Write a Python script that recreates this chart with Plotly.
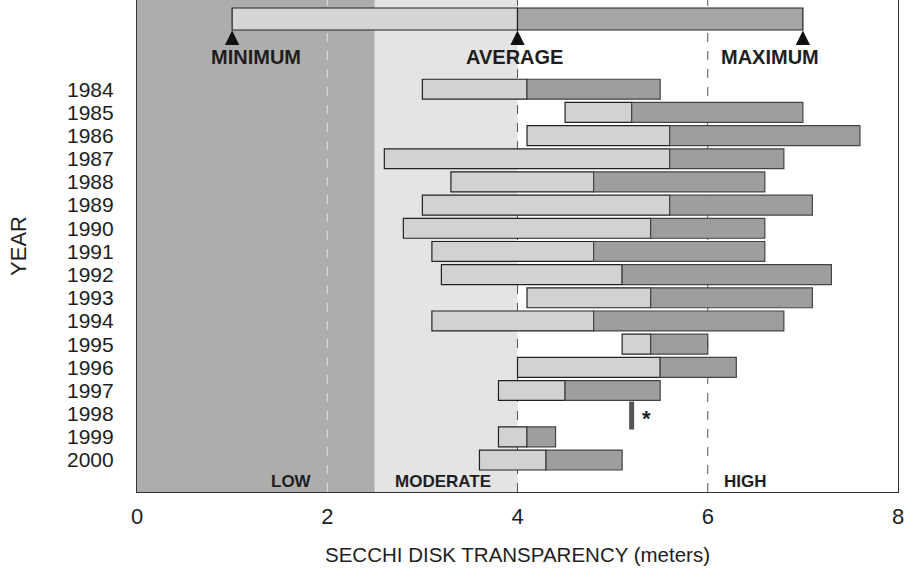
import plotly.graph_objects as go

# ---------------- data ----------------
years = list(range(1984, 2001))
year_min = [3.0, 4.5, 4.1, 2.6, 3.3, 3.0, 2.8, 3.1, 3.2, 4.1, 3.1, 5.1, 4.0, 3.8, None, 3.8, 3.6]
year_avg = [4.1, 5.2, 5.6, 5.6, 4.8, 5.6, 5.4, 4.8, 5.1, 5.4, 4.8, 5.4, 5.5, 4.5, 5.2, 4.1, 4.3]
year_max = [5.5, 7.0, 7.6, 6.8, 6.6, 7.1, 6.6, 6.6, 7.3, 7.1, 6.8, 6.0, 6.3, 5.5, None, 4.4, 5.1]

# single-measurement year (no range bar)
single_year = 1998
single_value = 5.2

# overall summary (top bar)
overall_labels = ["MINIMUM", "AVERAGE", "MAXIMUM"]
overall_values = [1.0, 4.0, 7.0]
overall_label_x = [1.25, 3.97, 6.65]

# transparency zones
zone_names = ["LOW", "MODERATE", "HIGH"]
zone_bounds = [0.0, 2.5, 4.0, 8.0]
zone_label_x = [1.62, 3.22, 6.4]
divider_x = [2, 4, 6]

x_ticks = [0, 2, 4, 6, 8]

# ---------------- styles ----------------
FONT = "Liberation Sans, Arial, sans-serif"
TXT = "#1e1e1e"
LIGHT = "#d2d2d2"
DARK = "#9e9e9e"
zone_colors = ["#adadad", "#e4e4e4", "rgba(0,0,0,0)"]
divider_colors = ["#e2e2e2", "#555555", "#555555"]

summary_y = 1980.97
label_y = 1982.6
zone_label_y = 2000.92

fig = go.Figure()

# year range bars
lo_len = [None if a is None or b is None else b - a for a, b in zip(year_min, year_avg)]
hi_len = [None if a is None or b is None else b - a for a, b in zip(year_avg, year_max)]
bar_years = [y for y, l in zip(years, lo_len) if l is not None]
fig.add_trace(go.Bar(
    orientation="h", y=bar_years,
    x=[l for l in lo_len if l is not None],
    base=[m for m, l in zip(year_min, lo_len) if l is not None],
    width=0.86, marker=dict(color=LIGHT, line=dict(color="#222", width=1.2)),
    showlegend=False, hoverinfo="skip"))
fig.add_trace(go.Bar(
    orientation="h", y=bar_years,
    x=[l for l in hi_len if l is not None],
    base=[m for m, l in zip(year_avg, hi_len) if l is not None],
    width=0.86, marker=dict(color=DARK, line=dict(color="#444", width=1.2)),
    showlegend=False, hoverinfo="skip"))

# overall summary bar
fig.add_trace(go.Bar(
    orientation="h", y=[summary_y], x=[overall_values[1] - overall_values[0]],
    base=[overall_values[0]], width=0.95,
    marker=dict(color="#d6d6d6", line=dict(color="#222", width=1.2)),
    showlegend=False, hoverinfo="skip"))
fig.add_trace(go.Bar(
    orientation="h", y=[summary_y], x=[overall_values[2] - overall_values[1]],
    base=[overall_values[1]], width=0.95,
    marker=dict(color="#a6a6a6", line=dict(color="#222", width=1.2)),
    showlegend=False, hoverinfo="skip"))

# single-measurement year
fig.add_trace(go.Scatter(
    x=[single_value], y=[single_year + 0.08], mode="markers",
    marker=dict(symbol="line-ns-open", size=20, color="#555555", line=dict(color="#555555", width=5)),
    showlegend=False, hoverinfo="skip"))

fig.update_layout(barmode="overlay")

shapes = []
for i in range(3):
    shapes.append(dict(type="rect", xref="x", yref="paper", x0=zone_bounds[i], x1=zone_bounds[i + 1],
                       y0=0, y1=1, fillcolor=zone_colors[i], line=dict(width=0), layer="below"))
for xv, c in zip(divider_x, divider_colors):
    shapes.append(dict(type="line", xref="x", yref="paper", x0=xv, x1=xv, y0=0, y1=1,
                       line=dict(color=c, width=1, dash="dash"), layer="below"))

annotations = []
for name, v, lx in zip(overall_labels, overall_values, overall_label_x):
    annotations.append(dict(x=v, y=summary_y + 0.5, xref="x", yref="y", text="", showarrow=True,
                            ax=0, ay=15, arrowhead=2, arrowsize=2.2, arrowwidth=1.3, arrowcolor="#111"))
    annotations.append(dict(x=lx, y=label_y, xref="x", yref="y", text="<b>%s</b>" % name, showarrow=False,
                            font=dict(family=FONT, size=20, color=TXT)))
for name, lx in zip(zone_names, zone_label_x):
    annotations.append(dict(x=lx, y=zone_label_y, xref="x", yref="y", text="<b>%s</b>" % name,
                            showarrow=False, font=dict(family=FONT, size=17, color=TXT)))
annotations.append(dict(x=single_value + 0.16, y=single_year + 0.2, xref="x", yref="y", text="<b>*</b>",
                        showarrow=False, font=dict(family=FONT, size=22, color=TXT)))

fig.update_layout(
    width=904, height=578,
    margin=dict(l=137, r=6, t=0, b=86),
    paper_bgcolor="white", plot_bgcolor="white",
    shapes=shapes, annotations=annotations,
    font=dict(family=FONT, color=TXT),
    xaxis=dict(range=[0, 8], tickvals=x_ticks, ticks="", ticklabelstandoff=4, ticklabeloverflow="allow",
               tickfont=dict(size=22, family=FONT, color=TXT), showgrid=False, zeroline=False,
               showline=True, linecolor="#333", linewidth=1.2, mirror=True,
               title=dict(text="SECCHI DISK TRANSPARENCY (meters)", font=dict(size=20.5, family=FONT, color=TXT),
                          standoff=20)),
    yaxis=dict(range=[2001.38, 1980.15], tickvals=years, ticktext=[str(y) for y in years], ticks="",
               ticklabelstandoff=18, tickfont=dict(size=21, family=FONT, color=TXT),
               showgrid=False, zeroline=False, showline=True, linecolor="#333", linewidth=1.2, mirror=True,
               title=dict(text="YEAR", font=dict(size=22, family=FONT, color=TXT), standoff=34)),
)

fig.write_html("out.html", config={"displayModeBar": False},
               post_script="document.body.style.margin='0';document.body.style.overflow='hidden';")
